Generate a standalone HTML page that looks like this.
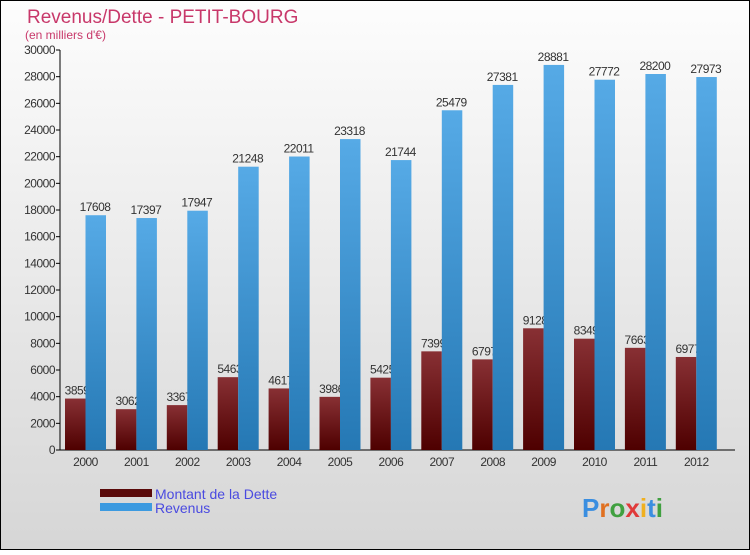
<!DOCTYPE html>
<html><head><meta charset="utf-8"><style>
body{margin:0}
svg text{font-family:"Liberation Sans",sans-serif}
</style></head><body>
<svg id="c" width="750" height="550" xmlns="http://www.w3.org/2000/svg">
<defs>
<linearGradient id="bg" x1="0" y1="0" x2="0" y2="1"><stop offset="0" stop-color="#fdfdfd"/><stop offset="1" stop-color="#d6d6d6"/></linearGradient>
<linearGradient id="gd" x1="0" y1="0" x2="0" y2="1"><stop offset="0" stop-color="#883034"/><stop offset="1" stop-color="#4e0000"/></linearGradient>
<linearGradient id="gr" x1="0" y1="0" x2="0" y2="1"><stop offset="0" stop-color="#56aae6"/><stop offset="1" stop-color="#2578b4"/></linearGradient>
</defs>
<rect x="0.5" y="0.5" width="749" height="549" fill="url(#bg)" stroke="#000"/>
<text x="27" y="23" font-size="19" fill="#c8386a">Revenus/Dette - PETIT-BOURG</text>
<text x="25" y="39" font-size="12" fill="#c8386a">(en milliers d'€)</text>
<g id="plot"></g>
<rect x="100" y="489" width="52" height="8" fill="#5a0a0a"/>
<text x="155" y="499" font-size="14" fill="#4a4ae0">Montant de la Dette</text>
<rect x="100" y="503" width="52" height="8" fill="#3c9ae0"/>
<text x="155" y="513" font-size="14" fill="#4a4ae0">Revenus</text>
<text x="582" y="517" font-size="26" font-weight="bold"><tspan fill="#3a8ee0">P</tspan><tspan fill="#e07020">r</tspan><tspan fill="#40a040">o</tspan><tspan fill="#e03a3a">x</tspan><tspan fill="#f0b020">i</tspan><tspan fill="#3a8ee0">t</tspan><tspan fill="#40a040">i</tspan></text>
</svg>
<script>
const years=["2000","2001","2002","2003","2004","2005","2006","2007","2008","2009","2010","2011","2012"];
const dette=[3859,3062,3367,5463,4617,3986,5425,7399,6797,9128,8349,7663,6977];
const revenus=[17608,17397,17947,21248,22011,23318,21744,25479,27381,28881,27772,28200,27973];
const ticks=[0,2000,4000,6000,8000,10000,12000,14000,16000,18000,20000,22000,24000,26000,28000,30000];
const NS="http://www.w3.org/2000/svg";
const g=document.getElementById("plot");
const y=v=>450-v*400/30000;
const gx=i=>65+i*50.9;
function mk(t,a,txt){const e=document.createElementNS(NS,t);for(const k in a)e.setAttribute(k,a[k]);if(txt!=null)e.textContent=txt;g.appendChild(e);return e;}
let e=mk("line",{x1:60,y1:50,x2:60,y2:450,stroke:"#000"});


e=mk("line",{x1:60,y1:450,x2:735,y2:450,stroke:"#000"});


ticks.forEach(t=>{
 let l=mk("line",{x1:56,y1:y(t),x2:60,y2:y(t),stroke:"#000"});
 
 
 let tx=mk("text",{x:55,y:y(t)+4,"font-size":12,"text-anchor":"end",fill:"#333","letter-spacing":"-0.5"},t);
 
 
});
years.forEach((yr,i)=>{
 const x=gx(i);
 let b=mk("rect",{x:x,y:y(dette[i]),width:20.5,height:450-y(dette[i]),fill:"url(#gd)"});
 
 
 let t=mk("text",{x:x+12,y:y(dette[i])-4,"font-size":12,"text-anchor":"middle",fill:"#333","letter-spacing":"-0.5"},dette[i]);
 
 
 let r=mk("rect",{x:x+20.5,y:y(revenus[i]),width:20.5,height:450-y(revenus[i]),fill:"url(#gr)"});
 
 
 let t2=mk("text",{x:x+30,y:y(revenus[i])-4,"font-size":12,"text-anchor":"middle",fill:"#333","letter-spacing":"-0.5"},revenus[i]);
 
 
 let xl=mk("text",{x:x+20.5,y:466,"font-size":12,"text-anchor":"middle",fill:"#333","letter-spacing":"-0.5"},yr);
 
 
});
</script>
</body></html>
